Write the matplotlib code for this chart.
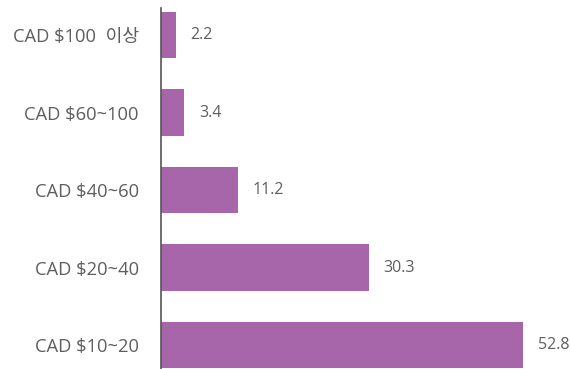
import matplotlib
matplotlib.use('Agg')
from matplotlib import pyplot as plt

plt.rcParams['font.family'] = ['Open Sans', 'Noto Sans CJK KR', 'DejaVu Sans']

# price ranges, bottom to top
categories = ['CAD $10~20', 'CAD $20~40', 'CAD $40~60', 'CAD $60~100', 'CAD $100  이상']
values = [52.8, 30.3, 11.2, 3.4, 2.2]

bar_color = '#a866aa'
text_color = '#5e5e5e'

fig = plt.figure(figsize=(5.7, 3.69), dpi=100)
ax = fig.add_axes([0.2825, 0.0, 0.7175, 0.978])

y = range(len(categories))
ax.barh(y, values, height=0.6, color=bar_color)

for yi, v in zip(y, values):
    ax.annotate(f'{v:.1f}', (v, yi), xytext=(10.5, 0), textcoords='offset points',
                va='center', ha='left', fontsize=11.5, color=text_color)

ax.set_xlim(0, 59.66)
ax.set_ylim(-0.31, 4.35)
ax.set_yticks(list(y))
ax.set_yticklabels(categories, fontsize=13.2, color=text_color)
ax.tick_params(axis='y', length=0, pad=16)
ax.set_xticks([])

for side in ['top', 'right', 'bottom']:
    ax.spines[side].set_visible(False)
ax.spines['left'].set_color('#555555')
ax.spines['left'].set_linewidth(1.2)

plt.savefig('out.png', dpi=100)
